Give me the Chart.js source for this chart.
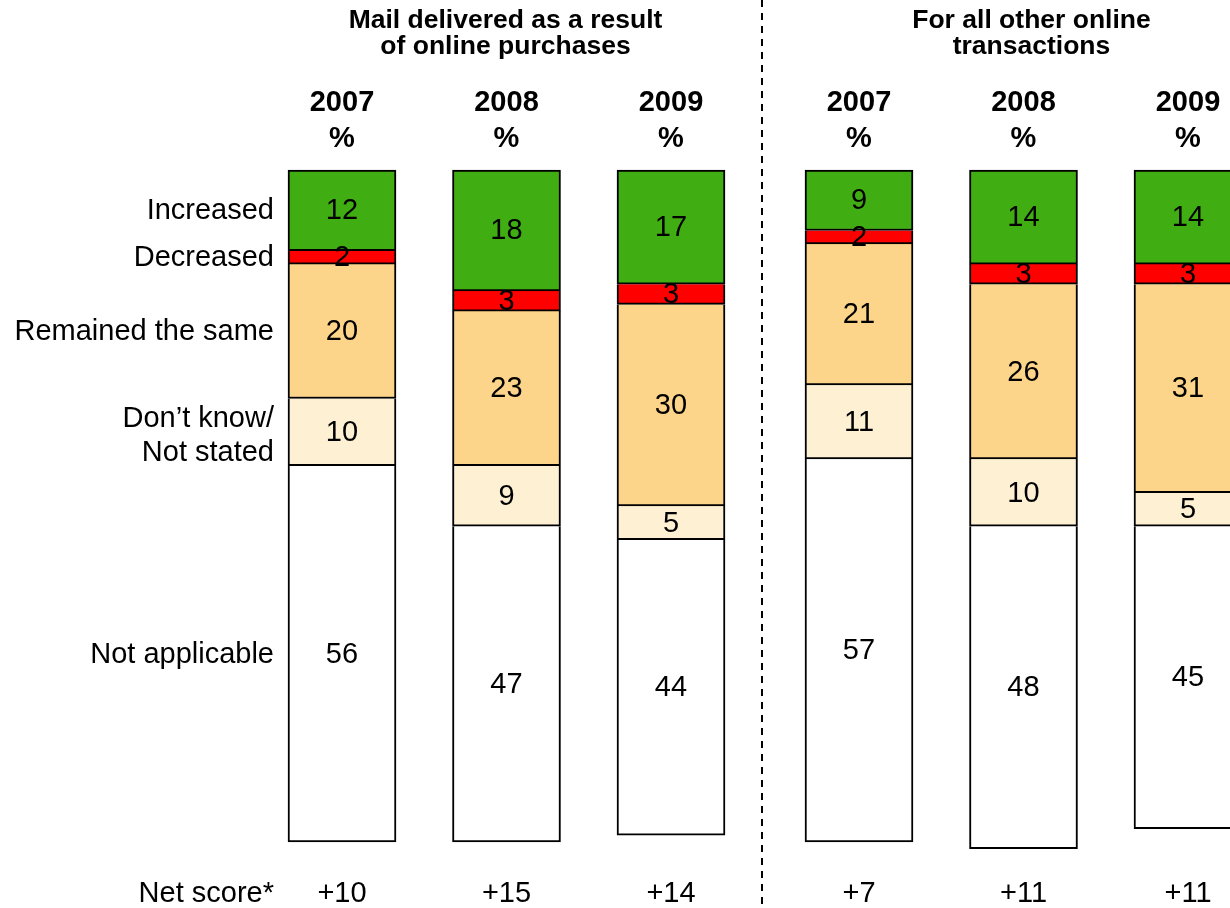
<!DOCTYPE html>
<html><head><meta charset="utf-8">
<script src="https://cdn.jsdelivr.net/npm/chart.js@4.4.1/dist/chart.umd.min.js"></script>
<style>
html,body{margin:0;padding:0;background:#fff;overflow:hidden}
#wrap{position:relative;width:1230px;height:908px;overflow:hidden;background:#fff}
canvas{position:absolute;left:0;top:0}
</style></head><body>
<div id="wrap">
<canvas id="chartA" width="1230" height="908"></canvas>
<canvas id="chartB" width="1280" height="908"></canvas>
</div>
<script>
// ---- data ----
const years = ['2007', '2008', '2009'];
const answerNames = ['Increased', 'Decreased', 'Remained the same', ['Don\u2019t know/', 'Not stated'], 'Not applicable'];
const panelTitles = [['Mail delivered as a result', 'of online purchases'], ['For all other online', 'transactions']];
const netLabel = 'Net score*';

// Mail delivered as a result of online purchases
const purchIncreased = [12, 18, 17];
const purchDecreased = [2, 3, 3];
const purchSame = [20, 23, 30];
const purchDontKnow = [10, 9, 5];
const purchNotApplicable = [56, 47, 44];
const purchNet = ['+10', '+15', '+14'];

// For all other online transactions
const otherIncreased = [9, 14, 14];
const otherDecreased = [2, 3, 3];
const otherSame = [21, 26, 31];
const otherDontKnow = [11, 10, 5];
const otherNotApplicable = [57, 48, 45];
const otherNet = ['+7', '+11', '+11'];

// ---- styles ----
const colors = ['#40AE12', '#FF0000', '#FDD58A', '#FDF0D3', '#FFFFFF'];
const FONT = '"Liberation Sans", Arial, Helvetica, sans-serif';
const YMAX = 105;
const PX_PER_UNIT = 6.72;
const TOP = 170;

function makeDatasets(series) {
  return series.map((vals, i) => ({
    label: Array.isArray(answerNames[i]) ? answerNames[i].join(' ') : answerNames[i],
    data: vals,
    backgroundColor: colors[i],
    borderColor: '#000',
    borderWidth: 2,
    borderSkipped: i === 0 ? false : 'start',
    barThickness: 108,
    stack: 's'
  }));
}

function labelPlugin(opts) {
  return {
    id: 'labels_' + opts.id,
    afterDraw(chart) {
      const ctx = chart.ctx;
      const xs = chart.scales.x;
      ctx.save();
      ctx.fillStyle = '#000';
      ctx.textBaseline = 'middle';
      ctx.textAlign = 'center';
      // value labels
      ctx.font = '29px ' + FONT;
      chart.data.datasets.forEach((ds, di) => {
        const meta = chart.getDatasetMeta(di);
        meta.data.forEach((el, j) => {
          const v = ds.data[j];
          ctx.fillText(String(v), el.x, (el.y + el.base) / 2 + 1);
        });
      });
      // years
      ctx.font = 'bold 29px ' + FONT;
      years.forEach((y, j) => {
        const x = xs.getPixelForValue(j);
        ctx.fillText(y, x, 103);
        ctx.fillText('%', x, 139);
      });
      // net scores
      ctx.font = '29px ' + FONT;
      opts.net.forEach((n, j) => {
        ctx.fillText(n, xs.getPixelForValue(j), 894);
      });
      // panel title
      ctx.font = 'bold 26.5px ' + FONT;
      const tx = xs.getPixelForValue(1) + opts.titleShift;
      ctx.fillText(opts.title[0], tx, 21);
      ctx.fillText(opts.title[1], tx, 47);

      if (opts.leftLabels) {
        ctx.font = '29px ' + FONT;
        ctx.textAlign = 'right';
        const first = chart.getDatasetMeta(0).data[0];
        const lx = first.x - 54 - 14;
        answerNames.forEach((name, di) => {
          const el = chart.getDatasetMeta(di).data[0];
          const cy = (el.y + el.base) / 2 + 1;
          if (Array.isArray(name)) {
            ctx.fillText(name[0], lx, cy - 14);
            ctx.fillText(name[1], lx, cy + 20);
          } else {
            ctx.fillText(name, lx, cy);
          }
        });
        ctx.fillText(netLabel, lx, 894);
        // dashed divider
        ctx.strokeStyle = '#000';
        ctx.lineWidth = 2;
        ctx.setLineDash([7, 6]);
        ctx.beginPath();
        ctx.moveTo(762, 0);
        ctx.lineTo(762, 908);
        ctx.stroke();
      }
      ctx.restore();
    }
  };
}

function makeChart(id, series, padLeft, padRight, opts) {
  const bottomPad = 908 - TOP - YMAX * PX_PER_UNIT;
  return new Chart(document.getElementById(id), {
    type: 'bar',
    data: { labels: years, datasets: makeDatasets(series) },
    options: {
      responsive: false,
      animation: false,
      devicePixelRatio: 1,
      layout: { padding: { left: padLeft, right: padRight, top: TOP, bottom: bottomPad } },
      plugins: { legend: { display: false }, tooltip: { enabled: false } },
      datasets: { bar: { clip: false } },
      scales: {
        x: { display: false, stacked: true, offset: true },
        y: { display: false, stacked: true, reverse: true, min: 0, max: YMAX }
      }
    },
    plugins: [labelPlugin(opts)]
  });
}

// left panel: chart area 259.75 .. 753.25
makeChart('chartA',
  [purchIncreased, purchDecreased, purchSame, purchDontKnow, purchNotApplicable],
  259.75, 1230 - 753.25,
  { id: 'a', net: purchNet, title: panelTitles[0], titleShift: -1, leftLabels: true });

// right panel: chart area 776.75 .. 1270.25 (canvas 1280 wide, clipped by wrapper)
makeChart('chartB',
  [otherIncreased, otherDecreased, otherSame, otherDontKnow, otherNotApplicable],
  776.75, 1280 - 1270.25,
  { id: 'b', net: otherNet, title: panelTitles[1], titleShift: 8, leftLabels: false });
</script>
</body></html>
